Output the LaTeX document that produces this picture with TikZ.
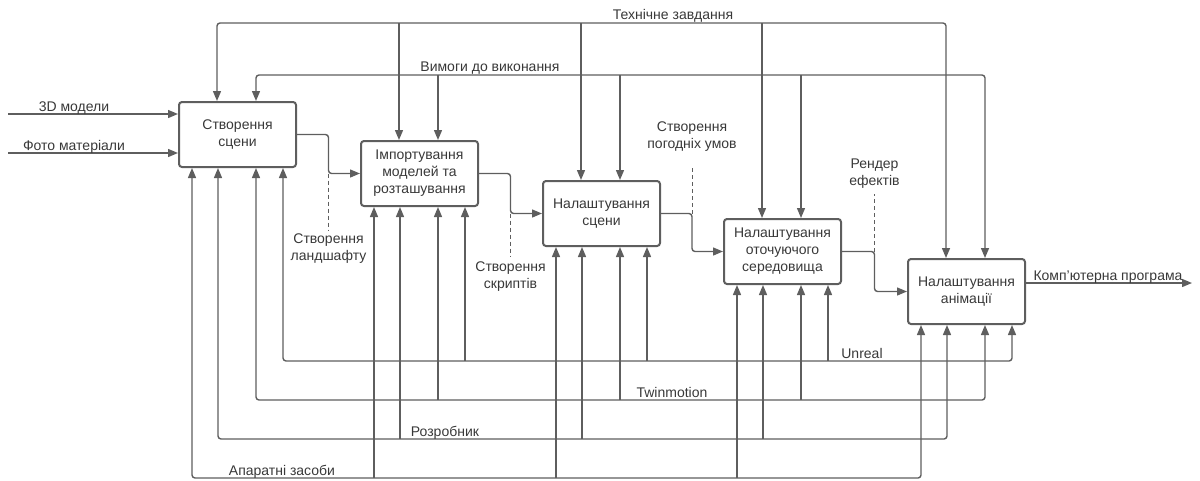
\documentclass[tikz,border=0pt]{standalone}
\usepackage{fontspec}
\setmainfont{Liberation Sans}
\usetikzlibrary{arrows.meta,calc}
\definecolor{ln}{HTML}{5E5E5E}
\definecolor{tx}{HTML}{383838}
\begin{document}
\begin{tikzpicture}[x=1pt,y=-1pt,
  font=\fontsize{14}{17}\selectfont,
  proc/.style={draw=ln, line width=2pt, rounded corners=3pt, minimum width=117pt, minimum height=65pt, align=center, text=tx, inner sep=0pt, anchor=north west},
  conn/.style={draw=ln, line width=1.4pt, rounded corners=3pt},
  arr/.style={conn, -{Triangle[length=10pt,width=8pt]}},
  darr/.style={conn, {Triangle[length=10pt,width=8pt]}-{Triangle[length=10pt,width=8pt]}},
  dashline/.style={draw=ln, line width=0.9pt, dash pattern=on 4pt off 3pt},
  lbl/.style={text=tx, inner sep=0pt, align=center}
]
\useasboundingbox (0,0) rectangle (1200,480);

% process boxes
\node[proc] (b1) at (178,101) {Створення\\сцени};
\node[proc] (b2) at (360,140) {Імпортування\\моделей та\\розташування};
\node[proc] (b3) at (542,180) {Налаштування\\сцени};
\node[proc] (b4) at (723,218) {Налаштування\\оточуючого\\середовища};
\node[proc] (b5) at (907,258) {Налаштування\\анімації};

% tap points on every box
\foreach \b in {b1,b2,b3,b4,b5}{
  \coordinate (\b-m1) at ([xshift=14pt]\b.south west);
  \coordinate (\b-m2) at ([xshift=40pt]\b.south west);
  \coordinate (\b-m3) at ([xshift=78pt]\b.south west);
  \coordinate (\b-m4) at ([xshift=105pt]\b.south west);
  \coordinate (\b-c1) at ([xshift=39pt]\b.north west);
  \coordinate (\b-c2) at ([xshift=78pt]\b.north west);
}

% bus levels
\coordinate (yT) at (0,23);
\coordinate (yV) at (0,75);
\coordinate (yU) at (0,361);
\coordinate (yW) at (0,400);
\coordinate (yR) at (0,439);
\coordinate (yA) at (0,478);

% controls (top)
\draw[darr] (b1-c1) |- (yT -| b5-c1) -- (b5-c1);
\foreach \b in {b2,b3,b4} \draw[arr] (yT -| \b-c1) -- (\b-c1);
\draw[darr] (b1-c2) |- (yV -| b5-c2) -- (b5-c2);
\foreach \b in {b2,b3,b4} \draw[arr] (yV -| \b-c2) -- (\b-c2);
\node[lbl, anchor=base] (lT) at (673,19.5) {Технічне завдання};
\node[lbl, anchor=base] (lV) at (490,71.5) {Вимоги до виконання};

% mechanisms (bottom)
\draw[darr] (b1-m4) |- (yU -| b5-m4) -- (b5-m4);
\foreach \b in {b2,b3,b4} \draw[arr] (yU -| \b-m4) -- (\b-m4);
\draw[darr] (b1-m3) |- (yW -| b5-m3) -- (b5-m3);
\foreach \b in {b2,b3,b4} \draw[arr] (yW -| \b-m3) -- (\b-m3);
\draw[darr] (b1-m2) |- (yR -| b5-m2) -- (b5-m2);
\foreach \b in {b2,b3,b4} \draw[arr] (yR -| \b-m2) -- (\b-m2);
\draw[darr] (b1-m1) |- (yA -| b5-m1) -- (b5-m1);
\foreach \b in {b2,b3,b4} \draw[arr] (yA -| \b-m1) -- (\b-m1);
\node[lbl, anchor=base] (lU) at (862,358.5) {Unreal};
\node[lbl, anchor=base] (lW) at (672,397.5) {Twinmotion};
\node[lbl, anchor=base] (lR) at (445,436) {Розробник};
\node[lbl, anchor=base] (lA) at (282,475) {Апаратні засоби};

% inputs
\coordinate (i1) at (8,114);
\coordinate (i2) at (8,153);
\draw[arr] (i1) -- (i1 -| b1.west);
\draw[arr] (i2) -- (i2 -| b1.west);
\node[lbl, anchor=base] (li1) at (74,111) {3D модели};
\node[lbl, anchor=base] (li2) at (74,150) {Фото матеріали};

% flows between boxes
\coordinate (m12) at ($(b1.east)!0.5!(b2.west)$);
\coordinate (m23) at ($(b2.east)!0.5!(b3.west)$);
\coordinate (m34) at ($(b3.east)!0.5!(b4.west)$);
\coordinate (m45) at ($(b4.east)!0.5!(b5.west)$);
\draw[arr] (b1.east) -| (m12) |- (b2.west);
\draw[arr] (b2.east) -| (m23) |- (b3.west);
\draw[arr] (b3.east) -| (m34) |- (b4.west);
\draw[arr] (b4.east) -| (m45) |- (b5.west);

% dashed side notes
\node[lbl, anchor=north] (n12) at (m12 |- 0,234) {Створення\\ландшафту};
\node[lbl, anchor=north] (n23) at (m23 |- 0,262) {Створення\\скриптів};
\node[lbl, anchor=south] (n34) at (m34 |- 0,152) {Створення\\погодніх умов};
\node[lbl, anchor=south] (n45) at (m45 |- 0,189) {Рендер\\ефектів};
\draw[dashline] (b2.west -| m12) -- ([yshift=3pt]n12.north);
\draw[dashline] (b3.west -| m23) -- ([yshift=5pt]n23.north);
\draw[dashline] (b3.east -| m34) -- ([yshift=-14pt]n34.south);
\draw[dashline] (b4.east -| m45) -- ([yshift=-5pt]n45.south);

% output
\coordinate (out) at (1192,283);
\draw[arr] (b5.east |- out) -- (out);
\node[lbl, anchor=base] (lo) at (1108,280) {Комп'ютерна програма};
\end{tikzpicture}
\end{document}
